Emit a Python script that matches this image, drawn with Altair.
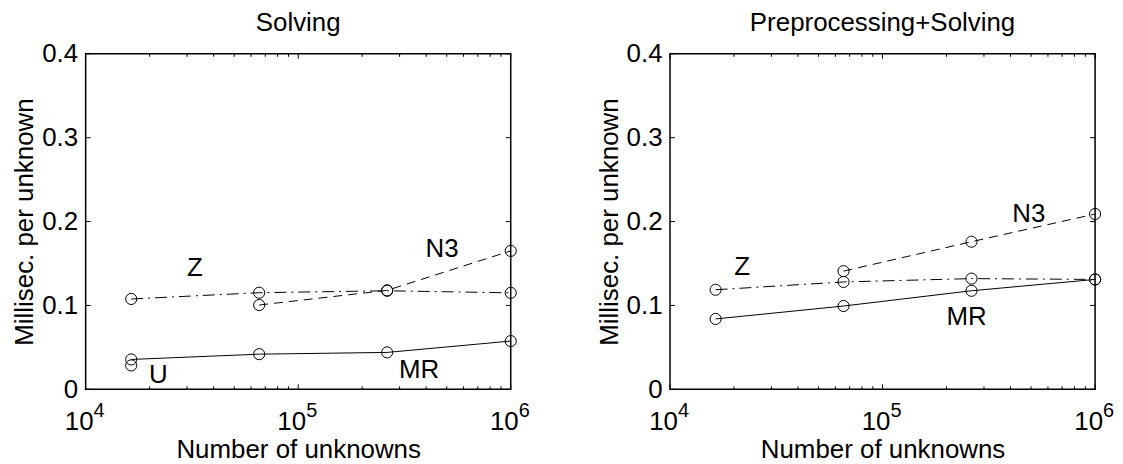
import altair as alt
import pandas as pd

# ---------------- data ----------------
N = [16384, 65536, 262144, 1000000]
N3_N = [65536, 262144, 1000000]

# Panel 1: Solving
s_mr = [0.0356, 0.0419, 0.0440, 0.0575]
s_z = [0.1077, 0.1152, 0.1175, 0.1150]
s_n3 = [0.1005, 0.1180, 0.1650]
s_u_n = [16384]
s_u = [0.0285]

# Panel 2: Preprocessing+Solving
p_mr = [0.0839, 0.0993, 0.1175, 0.1310]
p_z = [0.1187, 0.1280, 0.1320, 0.1310]
p_n3 = [0.1409, 0.1760, 0.2090]

# curve labels
s_lab_text = ["Z", "N3", "MR", "U"]
s_lab_x = [32700, 475000, 370700, 21980]
s_lab_y = [0.1448, 0.1670, 0.0226, 0.0166]

p_lab_text = ["Z", "N3", "MR"]
p_lab_x = [21870, 488000, 248500]
p_lab_y = [0.1452, 0.2085, 0.0858]

titles = ["Solving", "Preprocessing+Solving"]
y_title = "Millisec. per unknown"
x_title = "Number of unknowns"

y_ticks = [0, 0.1, 0.2, 0.3, 0.4]
x_major = [1e4, 1e5, 1e6]
x_exponents = ["4", "5", "6"]
x_minor = [2e4, 3e4, 4e4, 5e4, 6e4, 7e4, 8e4, 9e4,
           2e5, 3e5, 4e5, 5e5, 6e5, 7e5, 8e5, 9e5]

# ---------------- styling ----------------
W, H = 427, 337
FONT = "Liberation Sans"
FS = 26
xs = alt.Scale(type="log", domain=[1e4, 1e6], nice=False)
ys = alt.Scale(domain=[0, 0.4], nice=False)

X_AXIS = alt.Axis(labels=False, ticks=False, domain=False, grid=False,
                  title=x_title, titleFont=FONT, titleFontSize=FS,
                  titleFontWeight="normal", titlePadding=48, titleColor="black")
Y_AXIS = alt.Axis(values=y_ticks, format=".1~f", ticks=False, domain=False,
                  grid=False, labelFont=FONT, labelFontSize=FS,
                  labelColor="black", labelPadding=8,
                  title=y_title, titleFont=FONT, titleFontSize=FS,
                  titleFontWeight="normal", titlePadding=4, titleColor="black")


def xe():
    return alt.X("n:Q", scale=xs, axis=X_AXIS, title=x_title)


def ye():
    return alt.Y("v:Q", scale=ys, axis=Y_AXIS, title=y_title)


def series(xv, yv, dash=None):
    df = pd.DataFrame({"n": xv, "v": yv})
    kw = dict(color="black", strokeWidth=1)
    if dash:
        kw["strokeDash"] = dash
    line = alt.Chart(df).mark_line(**kw).encode(x=xe(), y=ye())
    pts = alt.Chart(df).mark_point(shape="circle", filled=False, color="black",
                                   size=125, strokeWidth=1, opacity=1).encode(x=xe(), y=ye())
    return [line, pts]


def panel(title, layers, lab_text, lab_x, lab_y):
    maj = pd.DataFrame({"n": x_major, "e": x_exponents})
    mnr = pd.DataFrame({"n": x_minor})
    yt = pd.DataFrame({"v": y_ticks})
    rk = dict(color="black", strokeWidth=1)
    ticks = [
        alt.Chart(maj).mark_rule(**rk).encode(x=xe(), y=alt.value(H), y2=alt.value(H - 5)),
        alt.Chart(maj).mark_rule(**rk).encode(x=xe(), y=alt.value(0), y2=alt.value(5)),
        alt.Chart(mnr).mark_rule(**rk).encode(x=xe(), y=alt.value(H), y2=alt.value(H - 3)),
        alt.Chart(mnr).mark_rule(**rk).encode(x=xe(), y=alt.value(0), y2=alt.value(3)),
        alt.Chart(yt).mark_rule(**rk).encode(y=ye(), x=alt.value(0), x2=alt.value(5)),
        alt.Chart(yt).mark_rule(**rk).encode(y=ye(), x=alt.value(W), x2=alt.value(W - 5)),
    ]
    tens = alt.Chart(maj).mark_text(text="10", font=FONT, fontSize=FS, align="right",
                                    baseline="alphabetic", dx=8, color="black").encode(
        x=xe(), y=alt.value(H + 41))
    exps = alt.Chart(maj).mark_text(font=FONT, fontSize=20, align="left",
                                    baseline="alphabetic", dx=8, color="black").encode(
        x=xe(), y=alt.value(H + 28), text="e:N")
    lab = pd.DataFrame({"n": lab_x, "v": lab_y, "t": lab_text})
    labels = alt.Chart(lab).mark_text(font=FONT, fontSize=FS, align="center",
                                      baseline="middle", color="black").encode(
        x=xe(), y=ye(), text="t:N")
    return alt.layer(*ticks, *layers, tens, exps, labels).properties(
        width=W, height=H,
        title=alt.TitleParams(title, font=FONT, fontSize=FS, fontWeight="normal",
                              anchor="middle", baseline="alphabetic", offset=-16,
                              color="black"))


left = panel(titles[0],
             series(N, s_z, [12, 5, 2, 5]) + series(N3_N, s_n3, [9, 6]) +
             series(N, s_mr) + series(s_u_n, s_u),
             s_lab_text, s_lab_x, s_lab_y)
right = panel(titles[1],
              series(N, p_z, [12, 5, 2, 5]) + series(N3_N, p_n3, [9, 6]) +
              series(N, p_mr),
              p_lab_text, p_lab_x, p_lab_y)

chart = alt.hconcat(left, right, spacing=65).properties(
    padding={"left": 3, "top": 0, "right": 0, "bottom": 0},
    background="white").configure_view(stroke="black", strokeWidth=1.5)

chart.save("out.html", embed_options={"renderer": "svg", "actions": False})
